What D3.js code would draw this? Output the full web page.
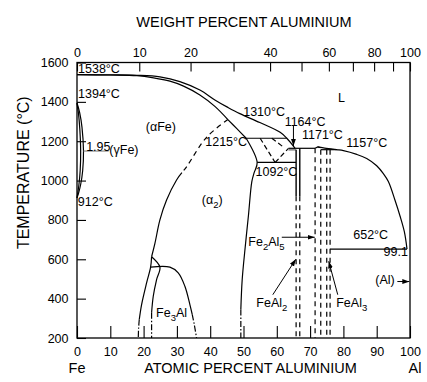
<!DOCTYPE html>
<html>
<head>
<meta charset="utf-8">
<script src="https://cdn.jsdelivr.net/npm/d3@7"></script>
<style>
  html, body { margin: 0; padding: 0; background: #fff; }
  svg { display: block; font-family: "Liberation Sans", Arial, Helvetica, sans-serif; }
</style>
</head>
<body>
<svg id="chart" width="427" height="382"></svg>
<script>
// ---- axis ticks ----
const atomicTicks = [0, 10, 20, 30, 40, 50, 60, 70, 80, 90, 100];
const weightTicks = [0, 10, 20, 30, 40, 50, 60, 70, 80, 90, 100];
const weightLabels = [0, 10, 20, 40, 60, 80, 100];
const tempTicks = [200, 400, 600, 800, 1000, 1200, 1400, 1600];

// ---- phase boundaries, [atomic % Al, temperature °C] ----
const liquidusFe = [[0, 1538], [10, 1537], [18, 1535], [24.9, 1527], [30.9, 1503], [36.9, 1460],
  [41.4, 1410], [45.3, 1372], [48.9, 1340], [54.9, 1295], [61, 1245], [63, 1215], [65.5, 1164]];
const solidusFe = [[0, 1538], [10, 1536.5], [18, 1533], [23, 1522], [27.9, 1505], [32, 1480],
  [36.9, 1435], [41.4, 1377], [45.3, 1310]];
const solidusAlpha2 = [[45.3, 1310], [48, 1264], [50.8, 1215]];
const peritectic1215 = [[50.8, 1215], [63, 1215]];
const alpha2Boundary = [[50.8, 1215], [54.1, 1092], [53.2, 1040], [52.5, 995], [51.5, 825],
  [50.5, 660], [49.6, 495], [49.2, 345]];
const alpha2BoundaryLow = [[49.2, 345], [49.2, 200]];
const epsilonLeft = [[55, 1215], [59.5, 1092]];
const epsilonRight = [[59.5, 1092], [63.5, 1164]];
const epsilonInner = [[58.5, 1215], [62, 1170]];
const eutectoid1092 = [[54.1, 1092], [65.8, 1092]];
const eutectic1164 = [[63.5, 1164], [71.5, 1164]];
const feAl2Top = [[63.5, 1156], [65.8, 1156]];
const feAl2Left = [[65.8, 1156], [65.8, 920]];
const feAl2Right = [[66.9, 1164], [66.9, 920]];
const feAl2LeftLow = [[65.8, 920], [65.8, 200]];
const feAl2RightLow = [[66.9, 920], [66.9, 200]];
const fe2Al5Dome = [[71.5, 1164], [72.3, 1171], [73.2, 1167]];
const fe2Al5Left = [[71.5, 1164], [71.5, 200]];
const fe2Al5Right = [[73.2, 1157], [73.2, 200]];
const peritectic1157 = [[73.2, 1157], [78, 1157]];
const feAl3Left = [[75, 1157], [75, 200]];
const feAl3Right = [[76, 1157], [76, 200]];
const liquidusAl = [[72.3, 1171], [74, 1166], [78, 1157], [80, 1152], [84, 1133], [87, 1112],
  [90, 1075], [92, 1035], [93.5, 995], [95.5, 900], [97, 820], [98.3, 740], [99.1, 652]];
const eutectic652 = [[76, 652], [99.1, 652]];
const gammaOuter = [[0, 1394], [0.8, 1345], [1.5, 1270], [1.95, 1150], [1.7, 1050], [1.1, 980],
  [0.45, 935], [0, 912]];
const gammaInner = [[0, 1394], [0.45, 1340], [0.85, 1260], [1.1, 1150], [0.95, 1050], [0.55, 975],
  [0, 912]];
const gammaMax = [[1.95, 1150], [9.5, 1150]];
const orderingHigh = [[45.3, 1310], [38.9, 1220], [32.9, 1070], [31.5, 1040]];
const orderingLow = [[31.5, 1040], [29.9, 1003], [26.9, 901], [24.9, 800], [23.4, 681], [22.4, 613]];
const fe3AlLeft = [[22.4, 613], [22.1, 560], [20.9, 480], [19.4, 370], [18.7, 294]];
const fe3AlLeftLow = [[18.7, 294], [18.5, 250], [18.4, 200]];
const fe3AlRight = [[22.4, 613], [24.9, 560], [23.9, 497], [22.9, 412], [22.4, 328]];
const fe3AlRightLow = [[22.4, 328], [22.4, 200]];
const fe3AlDome = [[22.1, 560], [27.9, 560], [30.4, 531], [32.4, 463], [33.9, 370], [34.6, 320]];
const fe3AlDomeLow = [[34.6, 320], [35.2, 270], [35.9, 200]];

// ---- scales ----
const svg = d3.select("#chart");
const x = d3.scaleLinear().domain([0, 100]).range([77, 410]);
const y = d3.scaleLinear().domain([200, 1600]).range([338, 62.5]);

// weight % Al -> atomic % Al
const M_AL = 26.98, M_FE = 55.845;
const wtToAt = w => w >= 100 ? 100 : 100 * (w / M_AL) / (w / M_AL + (100 - w) / M_FE);

// ---- markers ----
const defs = svg.append("defs");
defs.append("marker").attr("id", "arrow").attr("viewBox", "0 0 10 10")
  .attr("refX", 10).attr("refY", 5).attr("markerWidth", 7).attr("markerHeight", 7)
  .attr("markerUnits", "userSpaceOnUse").attr("orient", "auto")
  .append("path").attr("d", "M0,1.5L10,5L0,8.5Z").attr("fill", "#000");

// ---- axes ----
const tickFont = "12.5px";
function styleAxis(g) {
  g.select(".domain").remove();
  g.selectAll(".tick line").attr("stroke", "#000").attr("stroke-width", 1.1);
  g.selectAll(".tick text").attr("fill", "#000").style("font-size", tickFont)
    .style("font-family", '"Liberation Sans", Arial, sans-serif');
}

svg.append("g").attr("transform", `translate(0,${y(200)})`)
  .call(d3.axisBottom(x).tickValues(atomicTicks).tickFormat(d3.format("d"))
    .tickSizeInner(-12).tickSizeOuter(0).tickPadding(9))
  .call(styleAxis);

svg.append("g").attr("transform", `translate(0,${y(1600)})`)
  .call(d3.axisTop(x).tickValues(weightTicks.map(wtToAt))
    .tickFormat((d, i) => weightLabels.includes(weightTicks[i]) ? String(weightTicks[i]) : "")
    .tickSizeInner(-9).tickSizeOuter(0).tickPadding(6))
  .call(styleAxis);

svg.append("g").attr("transform", `translate(${x(0)},0)`)
  .call(d3.axisLeft(y).tickValues(tempTicks).tickFormat(d3.format("d"))
    .tickSizeInner(-9).tickSizeOuter(0).tickPadding(8.5))
  .call(styleAxis);

// frame
svg.append("rect")
  .attr("x", x(0)).attr("y", y(1600))
  .attr("width", x(100) - x(0)).attr("height", y(200) - y(1600))
  .attr("fill", "none").attr("stroke", "#000").attr("stroke-width", 1.3);

// ---- phase boundaries ----
const smooth = d3.line().x(d => x(d[0])).y(d => y(d[1])).curve(d3.curveCatmullRom.alpha(0.5));
const straight = d3.line().x(d => x(d[0])).y(d => y(d[1]));
const plot = svg.append("g").attr("fill", "none").attr("stroke", "#000").attr("stroke-width", 1.2);

function draw(pts, opts = {}) {
  const p = plot.append("path").attr("d", (opts.curved ? smooth : straight)(pts));
  if (opts.dash) p.attr("stroke-dasharray", opts.dash);
  if (opts.color) p.attr("stroke", opts.color);
  if (opts.width) p.attr("stroke-width", opts.width);
  return p;
}
const DASH = "5,4";
const DASHDOT = "6,2,1.5,2";

draw(liquidusFe, { curved: true });
draw(solidusFe, { curved: true });
draw(solidusAlpha2, { curved: true });
draw(peritectic1215);
draw(alpha2Boundary, { curved: true });
draw(alpha2BoundaryLow, { dash: DASHDOT });
draw(epsilonLeft, { dash: "5,3" });
draw(epsilonRight, { dash: "5,3" });
draw(epsilonInner, { dash: "5,3" });
draw(eutectoid1092);
draw(eutectic1164);
draw(feAl2Top, { color: "#666" });
draw(feAl2Left, { width: 1.4 });
draw(feAl2Right, { width: 1.4 });
draw(feAl2LeftLow, { dash: DASH });
draw(feAl2RightLow, { dash: DASH });
draw(fe2Al5Dome);
draw(fe2Al5Left, { dash: DASH });
draw(fe2Al5Right, { dash: DASH });
draw(peritectic1157);
draw(feAl3Left, { dash: DASH });
draw(feAl3Right, { dash: DASH });
draw(liquidusAl, { curved: true });
draw(eutectic652);
draw(gammaOuter, { curved: true });
draw(gammaInner, { curved: true });
draw(gammaMax, { color: "#777", width: 1 });
draw(orderingHigh, { curved: true, dash: DASH });
draw(orderingLow, { curved: true });
draw(fe3AlLeft, { curved: true });
draw(fe3AlLeftLow, { curved: true, dash: DASHDOT });
draw(fe3AlRight, { curved: true });
draw(fe3AlRightLow, { dash: DASHDOT });
draw(fe3AlDome, { curved: true });
draw(fe3AlDomeLow, { curved: true, dash: DASHDOT });

// ---- pointers ----
const pointers = [
  [[65, 1278], [65, 1176]],
  [[61.5, 712], [71.4, 712]],
  [[58.8, 420], [65.7, 600]],
  [[78.3, 420], [75.6, 590]],
  [[96.2, 487], [99.8, 487]]
];
pointers.forEach(p => draw(p, { width: 1 }).attr("marker-end", "url(#arrow)"));

// ---- annotations: [parts, at%, °C]; parts = [text, subscript?] ----
const notes = [
  [[["1538°C"]], 6.6, 1569.5],
  [[["1394°C"]], 6.6, 1442.5],
  [[["1.95"]], 6.4, 1173],
  [[["(γFe)"]], 14.1, 1155],
  [[["912°C"]], 5.5, 894],
  [[["(αFe)"]], 25.2, 1274],
  [[["1215°C"]], 44.8, 1196],
  [[["1310°C"]], 56.2, 1348.5],
  [[["1164°C"]], 68.5, 1300],
  [[["1171°C"]], 73.7, 1231.6],
  [[["1157°C"]], 87, 1191],
  [[["1092°C"]], 59.9, 1046],
  [[["L"]], 79.4, 1419.6],
  [[["(α"], ["2", true], [")"]], 40.6, 901],
  [[["Fe"], ["3", true], ["Al"]], 28.4, 327],
  [[["Fe"], ["2", true], ["Al"], ["5", true]], 56.9, 690],
  [[["FeAl"], ["2", true]], 58.5, 378],
  [[["FeAl"], ["3", true]], 82.5, 378],
  [[["652°C"]], 88.2, 723],
  [[["99.1"]], 95.7, 640],
  [[["(Al)"]], 92.5, 495]
];
const noteG = svg.append("g").attr("fill", "#000").style("font-size", "12.5px");
notes.forEach(([parts, a, t]) => {
  const txt = noteG.append("text").attr("x", x(a)).attr("y", y(t))
    .attr("dy", "0.35em").attr("text-anchor", "middle");
  let shifted = false;
  parts.forEach(([s, sub]) => {
    const ts = txt.append("tspan").text(s);
    if (sub && !shifted) { ts.attr("dy", 4).style("font-size", "9.5px"); shifted = true; }
    else if (!sub && shifted) { ts.attr("dy", -4); shifted = false; }
    else if (sub) ts.style("font-size", "9.5px");
  });
});

// ---- axis titles ----
const titles = svg.append("g").attr("fill", "#000").attr("text-anchor", "middle").style("font-size", "14.5px");
titles.append("text").attr("x", 244).attr("y", 22).attr("dy", "0.35em").text("WEIGHT PERCENT ALUMINIUM");
titles.append("text").attr("x", 250.5).attr("y", 368).attr("dy", "0.35em").text("ATOMIC PERCENT ALUMINIUM");
titles.append("text").attr("x", x(0)).attr("y", 368).attr("dy", "0.35em").text("Fe");
titles.append("text").attr("x", 415).attr("y", 368).attr("dy", "0.35em").text("Al");
titles.append("text").attr("transform", "translate(23,172.7) rotate(-90)")
  .attr("dy", "0.35em").style("font-size", "16px").text("TEMPERATURE (°C)");
</script>
</body>
</html>
